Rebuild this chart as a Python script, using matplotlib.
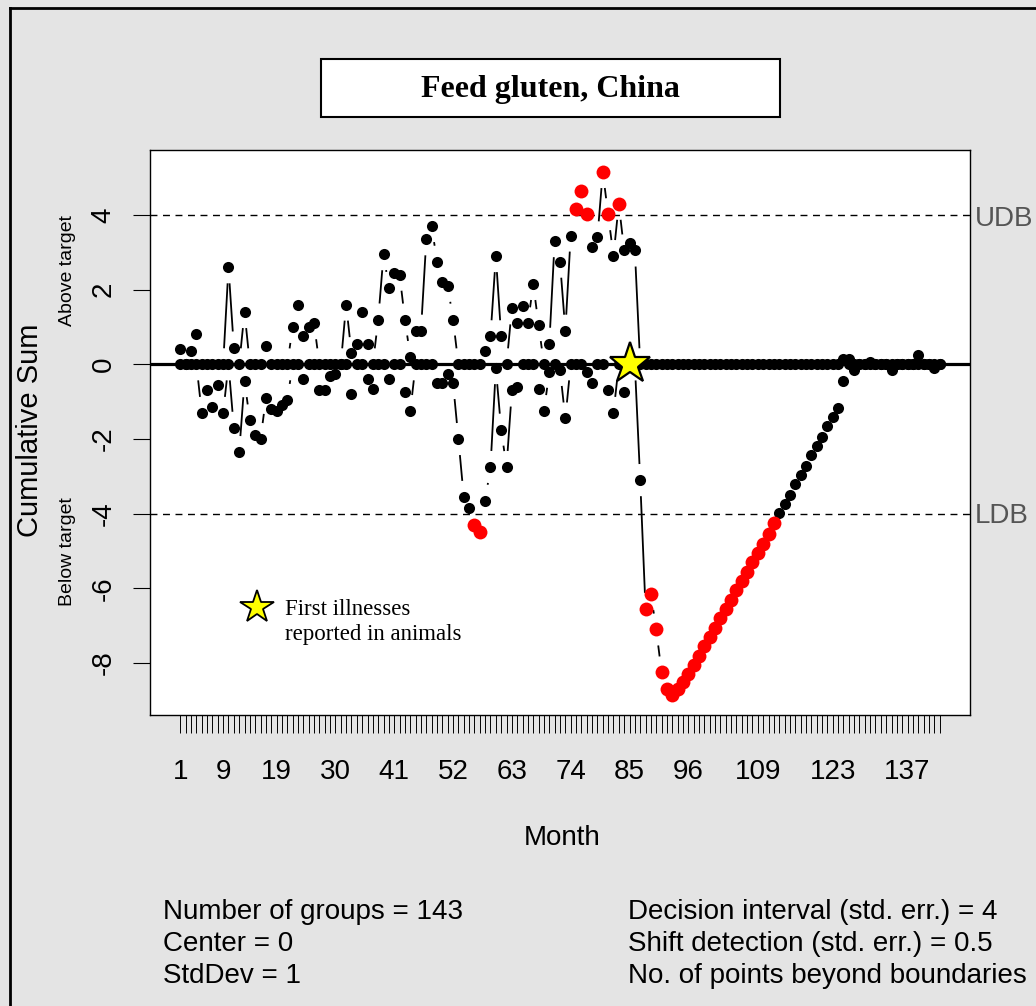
import numpy as np
import matplotlib
matplotlib.use("Agg")
import matplotlib.pyplot as plt
from matplotlib.lines import Line2D
from matplotlib.patches import Rectangle

plt.rcParams['font.family'] = ['Liberation Sans', 'DejaVu Sans']

n_groups = 143

# upper cusum (only the months that are not zero)
up_month = [1, 3, 4, 10, 11, 13, 17, 22, 23, 24, 25, 26, 32, 33, 34, 35, 36, 38, 39, 40,
            41, 42, 43, 44, 45, 46, 47, 48, 49, 50, 51, 52, 58, 59, 60, 61, 63, 64, 65, 66,
            67, 68, 70, 71, 72, 73, 74, 75, 76, 77, 78, 79, 80, 81, 82, 83, 84, 85, 86,
            125, 126, 130, 139]
up_val = [0.4, 0.35, 0.8, 2.6, 0.45, 1.4, 0.5, 1.0, 1.6, 0.75, 1.0, 1.1, 1.6, 0.3, 0.55, 1.4, 0.55, 1.2, 2.95, 2.05,
          2.45, 2.4, 1.2, 0.2, 0.9, 0.9, 3.35, 3.7, 2.75, 2.2, 2.1, 1.2, 0.35, 0.75, 2.9, 0.75, 1.5, 1.1, 1.55, 1.1,
          2.15, 1.05, 0.55, 3.3, 2.75, 0.9, 3.45, 4.15, 4.65, 4.02, 3.15, 3.4, 5.15, 4.02, 2.9, 4.3, 3.05, 3.25, 3.05,
          0.15, 0.15, 0.05, 0.25]

# lower cusum (only the months that are not zero)
lo_month = [5, 6, 7, 8, 9, 11, 12, 13, 14, 15, 16, 17, 18, 19, 20, 21, 24, 27, 28, 29,
            30, 33, 36, 37, 40, 43, 44, 49, 50, 51, 52, 53, 54, 55, 56, 57, 58, 59, 60, 61,
            62, 63, 64, 68, 69, 70, 72, 73, 77, 78, 81, 82, 84, 87, 88, 89, 90, 91, 92] \
           + list(range(93, 126)) + [127, 134, 142]
lo_val = [-1.3, -0.7, -1.15, -0.55, -1.3, -1.7, -2.35, -0.45, -1.5, -1.9, -2.0, -0.9, -1.2, -1.25, -1.1, -0.95, -0.4, -0.7, -0.7, -0.3,
          -0.25, -0.8, -0.4, -0.65, -0.4, -0.75, -1.25, -0.5, -0.5, -0.25, -0.5, -2.0, -3.55, -3.85, -4.3, -4.5, -3.65, -2.75, -0.1, -1.75,
          -2.75, -0.7, -0.6, -0.65, -1.25, -0.2, -0.15, -1.45, -0.2, -0.5, -0.7, -1.3, -0.75, -3.1, -6.55, -6.15, -7.1, -8.25, -8.7,
          -8.85, -8.7, -8.5, -8.3, -8.05, -7.8, -7.55, -7.3, -7.05, -6.8, -6.55, -6.3, -6.05, -5.8, -5.55, -5.3, -5.05,
          -4.8, -4.55, -4.25, -3.97, -3.73, -3.49, -3.21, -2.96, -2.72, -2.43, -2.19, -1.94, -1.66, -1.42, -1.17, -0.44,
          -0.15, -0.15, -0.1]

tick_show = [1, 9, 19, 30, 41, 52, 63, 74, 85, 96, 109, 123, 137]
y_ticks = [-8, -6, -4, -2, 0, 2, 4]
udb, ldb = 4, -4
star_month = 85

months = np.arange(1, n_groups + 1)
upper = np.zeros(n_groups)
upper[np.array(up_month) - 1] = up_val
lower = np.zeros(n_groups)
lower[np.array(lo_month) - 1] = lo_val

W, H = 1036, 1006
fig = plt.figure(figsize=(W / 100, H / 100), dpi=100)
fig.patch.set_facecolor('#e4e4e4')
ax = fig.add_axes([150 / W, 1 - 715 / H, 820 / W, 565 / H])
ax.set_facecolor('white')
ax.set_xlim(-4.68, 148.68)
ax.set_ylim(-9.39, 5.74)


def gap_lines(x, y, gap=17):
    # lines like R type="b": a gap is left around every point
    pts = ax.transData.transform(np.column_stack([x, y]))
    inv = ax.transData.inverted()
    for (x0, y0), (x1, y1) in zip(pts[:-1], pts[1:]):
        d = np.hypot(x1 - x0, y1 - y0)
        if d <= 2 * gap:
            continue
        ux, uy = (x1 - x0) / d, (y1 - y0) / d
        seg = inv.transform([(x0 + ux * gap, y0 + uy * gap), (x1 - ux * gap, y1 - uy * gap)])
        ax.plot(seg[:, 0], seg[:, 1], color='black', lw=1.3, zorder=2)


ax.axhline(0, color='black', lw=2.3, zorder=1)
ax.axhline(udb, color='black', lw=1.0, ls=(0, (5, 4)), zorder=1)
ax.axhline(ldb, color='black', lw=1.0, ls=(0, (5, 4)), zorder=1)

gap_lines(months, upper)
gap_lines(months, lower)

for vals, bad in [(upper, upper > udb), (lower, lower < ldb)]:
    ax.plot(months[~bad], vals[~bad], 'o', color='black', ms=8, mew=0, zorder=3)
    ax.plot(months[bad], vals[bad], 'o', color='red', ms=10, mew=0, zorder=3)

ax.plot(star_month, 0, marker='*', ms=31, mfc='yellow', mec='black', mew=1.6, zorder=5)
ax.plot(15.4, -6.5, marker='*', ms=25, mfc='yellow', mec='black', mew=1.3, zorder=5, clip_on=False)
ax.text(20.6, -6.9, 'First illnesses\nreported in animals', fontsize=16.5,
        family='Liberation Serif', va='center', ha='left', linespacing=1.3)

ax.set_xticks(months)
ax.set_xticklabels([str(m) if m in tick_show else '' for m in months])
ax.set_yticks(y_ticks)
ax.set_yticklabels([str(v) for v in y_ticks], rotation=90, va='center')
ax.tick_params(axis='x', length=13, width=0.7, pad=19, labelsize=20)
ax.tick_params(axis='y', length=12, width=0.8, pad=12, labelsize=20)
for s in ax.spines.values():
    s.set_linewidth(1.0)

# boundary names on the right
ax.text(1.006, udb - 0.12, 'UDB', transform=ax.get_yaxis_transform(), color='#555555',
        fontsize=20, va='center', ha='left', clip_on=False)
ax.text(1.006, ldb - 0.05, 'LDB', transform=ax.get_yaxis_transform(), color='#555555',
        fontsize=20, va='center', ha='left', clip_on=False)


def fx(x):
    return x / W


def fy(y):
    return 1 - y / H


# title box
fig.patches.append(Rectangle((fx(321), fy(117)), fx(459), 58 / H, transform=fig.transFigure,
                             facecolor='white', edgecolor='black', lw=1.5))
fig.text(fx(550), fy(90), 'Feed gluten, China', fontsize=23, fontweight='bold',
         family='Liberation Serif', ha='center', va='center')

fig.text(fx(30), fy(430), 'Cumulative Sum', fontsize=21, rotation=90, ha='center', va='center')
fig.text(fx(68), fy(270), 'Above target', fontsize=14, rotation=90, ha='center', va='center')
fig.text(fx(68), fy(552), 'Below target', fontsize=14, rotation=90, ha='center', va='center')
fig.text(fx(562), fy(838), 'Month', fontsize=20, ha='center', va='center')

left_txt = ['Number of groups = 143', 'Center = 0', 'StdDev = 1']
right_txt = ['Decision interval (std. err.) = 4', 'Shift detection (std. err.) = 0.5',
             'No. of points beyond boundaries']
for i, (a, b) in enumerate(zip(left_txt, right_txt)):
    yy = fy(912 + 32 * i)
    fig.text(fx(163), yy, a, fontsize=20, ha='left', va='center')
    fig.text(fx(628), yy, b, fontsize=20, ha='left', va='center')

# outer frame of the original device
fig.add_artist(Line2D([fx(10), fx(10)], [fy(8), 0], color='black', lw=2))
fig.add_artist(Line2D([fx(10), 1], [fy(8), fy(8)], color='black', lw=2))

plt.savefig('out.png', dpi=100, facecolor=fig.get_facecolor())
